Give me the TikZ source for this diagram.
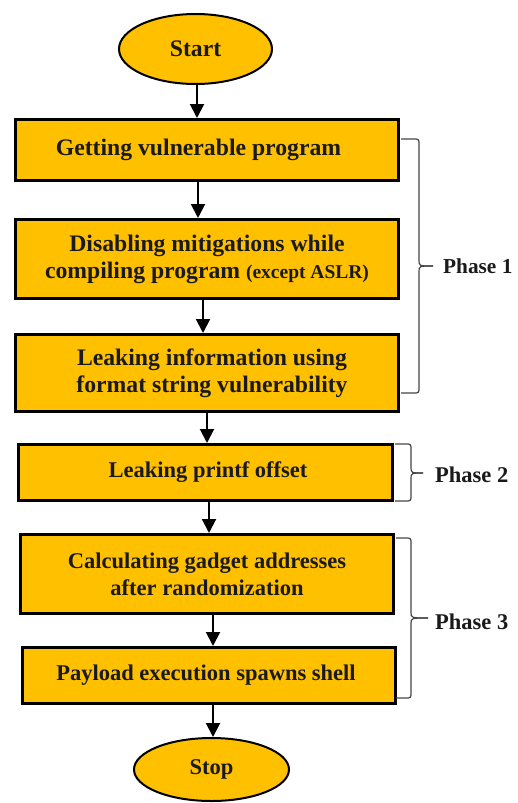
\documentclass[tikz,border=0pt]{standalone}
\usepackage{fontspec}
\setmainfont{Liberation Serif}
\usetikzlibrary{shapes.geometric,arrows.meta}
\definecolor{boxfill}{RGB}{255,192,0}
\definecolor{txt}{RGB}{26,26,26}
\definecolor{bracec}{RGB}{70,70,70}
\newcommand{\phasebrace}[6]{%
  \draw[brc] (#1,#3) -- ({#2-6},#3) .. controls (#2,#3) .. (#2,{#3+6}) -- (#2,{#6-6}) .. controls (#2,#6) .. (#5,#6);
  \draw[brc] (#1,#4) -- ({#2-6},#4) .. controls (#2,#4) .. (#2,{#4-6}) -- (#2,{#6+6}) .. controls (#2,#6) .. (#5,#6);
}
\begin{document}
\begin{tikzpicture}[x=1pt,y=-1pt,
  mainfont/.style={font=\fontsize{22.5}{27}\selectfont\bfseries},
  bigfont/.style={font=\fontsize{23.7}{27}\selectfont\bfseries},
  stepbox/.style={draw=black,line width=3pt,fill=boxfill,rectangle,inner sep=0pt,align=center,mainfont,text=txt},
  term/.style={draw=black,line width=2pt,fill=boxfill,ellipse,inner sep=0pt,mainfont,text=txt},
  arr/.style={line width=2pt,-{Triangle[length=14pt,width=14pt]}},
  brc/.style={draw=bracec,line width=1.2pt},
  phase/.style={mainfont,text=txt,anchor=base west,inner sep=0pt}]
\useasboundingbox (0,0) rectangle (517,803);
\fill[white] (0,0) rectangle (517,803);

\node[term, bigfont, minimum width=153pt, minimum height=70pt] (start) at (195.5,49) {Start};
\node[stepbox, bigfont, minimum width=383pt, minimum height=61pt] (b1) at (207,150) {\hspace*{-17pt}Getting vulnerable program};
\node[stepbox, bigfont, minimum width=383pt, minimum height=79pt] (b2) at (207,259) {Disabling mitigations while\\compiling program {\fontsize{19.5}{27}\selectfont(except ASLR)}};
\node[stepbox, bigfont, minimum width=383pt, minimum height=77pt] (b3) at (207,373) {\hspace*{10pt}Leaking information using\\\hspace*{10pt}format string vulnerability};
\node[stepbox, minimum width=374pt, minimum height=56pt] (b4) at (205.5,472.5) {\hspace*{5pt}Leaking printf offset};
\node[stepbox, minimum width=373pt, minimum height=79pt] (b5) at (207,574) {Calculating gadget addresses\\after randomization};
\node[stepbox, minimum width=373pt, minimum height=56pt] (b6) at (209,675.5) {\hspace*{-6pt}Payload execution spawns shell};
\node[term, minimum width=155pt, minimum height=63pt] (stop) at (211.5,769.5) {Stop};

\draw[arr] ([xshift=1.5pt]start.south) -- ([xshift=1.5pt]start.south |- b1.north);
\draw[arr] ([xshift=-9pt]b1.south) -- ([xshift=-9pt]b1.south |- b2.north);
\draw[arr] ([xshift=-4pt]b2.south) -- ([xshift=-4pt]b2.south |- b3.north);
\draw[arr] (b3.south) -- (b3.south |- b4.north);
\draw[arr] ([xshift=3.5pt]b4.south) -- ([xshift=3.5pt]b4.south |- b5.north);
\draw[arr] ([xshift=6pt]b5.south) -- ([xshift=6pt]b5.south |- b6.north);
\draw[arr] ([xshift=4pt]b6.south) -- ([xshift=4pt]b6.south |- stop.north);

\phasebrace{401}{419}{139}{393}{433}{266}
\phasebrace{395}{411}{444}{501}{423}{473}
\phasebrace{396}{411}{538}{698}{428}{618}

\node[phase, font=\fontsize{21.3}{27}\selectfont\bfseries] (p1) at (443,273) {Phase 1};
\node[phase] (p2) at (435,482) {Phase 2};
\node[phase] (p3) at (435,629) {Phase 3};
\end{tikzpicture}
\end{document}
